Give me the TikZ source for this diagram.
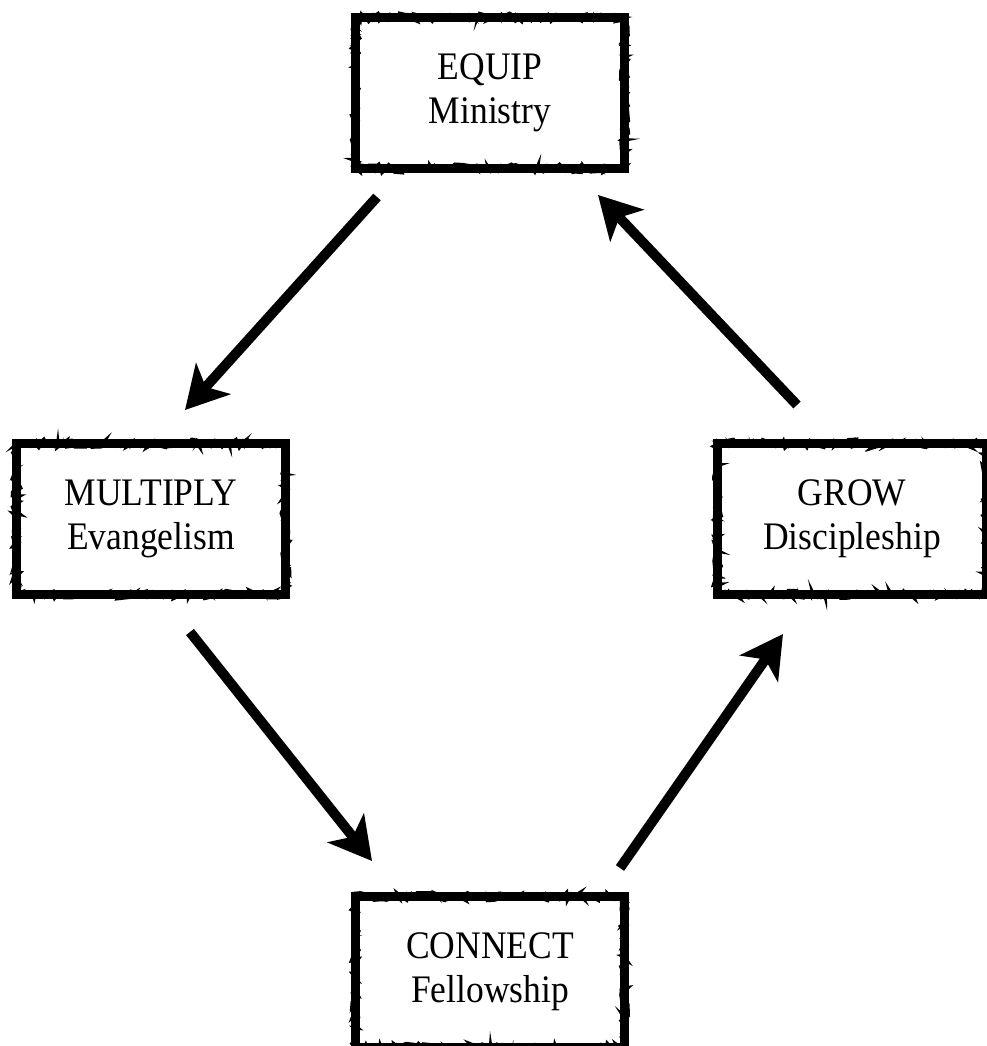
\documentclass[tikz,border=0pt]{standalone}
\usepackage{fontspec}
\newfontfamily\boxfont{Liberation Serif}[FakeStretch=0.91]
\usetikzlibrary{arrows.meta, decorations.pathmorphing}
\tikzset{
  frame/.style={draw, line width=9pt, rectangle, fill=white,
    minimum width=269pt, minimum height=151pt, align=center,
    font=\boxfont\fontsize{39}{44}\selectfont,
    postaction={draw, line width=3pt, decorate,
      decoration={random steps, segment length=3pt, amplitude=4.5pt}},
    postaction={draw, line width=1pt, decorate,
      decoration={random steps, segment length=2pt, amplitude=4pt}}},
  flow/.style={line width=10pt, -{Stealth[length=42pt, width=46pt, inset=11pt]}}
}

\begin{document}
\begin{tikzpicture}[x=1pt, y=-1pt]
  \useasboundingbox (0,0) rectangle (987,1046);
  % the four stages
  \node[frame] (equip) at (490,93) {EQUIP\\Ministry};
  \node[frame] (multiply) at (151,519) {MULTIPLY\\Evangelism};
  \node[frame] (grow) at (852,519) {GROW\\Discipleship};
  \node[frame] (connect) at (490,972) {CONNECT\\Fellowship};
  % the cycle
  \draw[flow] ([shift={(26,24)}]equip.south west) -- ([shift={(-105,-29)}]multiply.north east);
  \draw[flow] ([shift={(-100,33)}]multiply.south east) -- ([shift={(21,-31)}]connect.north west);
  \draw[flow] ([shift={(-9,-24)}]connect.north east) -- ([shift={(70,35)}]grow.south west);
  \draw[flow] ([shift={(84,-34)}]grow.north west) -- ([shift={(-31,22)}]equip.south east);
\end{tikzpicture}
\end{document}
